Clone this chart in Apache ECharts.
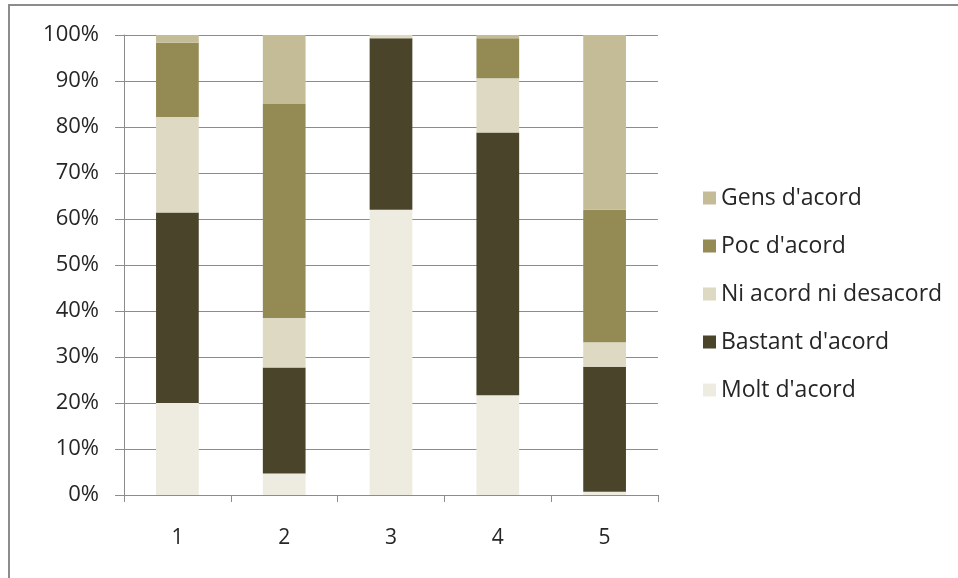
<!DOCTYPE html>
<html>
<head>
<meta charset="utf-8">
<script src="https://cdn.jsdelivr.net/npm/echarts@6/dist/echarts.min.js"></script>
<style>html,body{margin:0;padding:0;background:#fff;}#c{width:958px;height:578px;}</style>
</head>
<body>
<div id="c"></div>
<script>
const categories = ['1', '2', '3', '4', '5'];
const seriesNames = ['Molt d\'acord', 'Bastant d\'acord', 'Ni acord ni desacord', 'Poc d\'acord', 'Gens d\'acord'];
const moltAcord = [20.0, 4.7, 62.0, 21.7, 0.7];
const bastantAcord = [41.4, 23.0, 37.3, 57.1, 27.2];
const niAcord = [20.8, 10.8, 0.7, 11.8, 5.3];
const pocAcord = [16.1, 46.5, 0, 8.7, 28.8];
const gensAcord = [1.7, 15.0, 0, 0.7, 38.0];
const colors = ['#eeece1', '#4a452a', '#ddd9c3', '#948a54', '#c4bc96'];

const values = [moltAcord, bastantAcord, niAcord, pocAcord, gensAcord];
const FONT = 'Open Sans';

const chart = echarts.init(document.getElementById('c'), null, {renderer: 'canvas'});
chart.setOption({
  animation: false,
  backgroundColor: '#ffffff',
  graphic: [{
    type: 'rect',
    shape: {x: 9, y: 5, width: 1200, height: 1200},
    style: {fill: 'none', stroke: '#8c8c8c', lineWidth: 2},
    silent: true
  }],
  grid: {left: 124, right: 300, top: 35, bottom: 83, containLabel: false},
  legend: {
    orient: 'vertical',
    left: 698,
    top: 181,
    itemWidth: 13,
    itemHeight: 13,
    itemGap: 24,
    icon: 'rect',
    data: seriesNames.slice().reverse(),
    textStyle: {fontFamily: FONT, fontSize: 23, color: '#262626', lineHeight: 24}
  },
  xAxis: {
    type: 'category',
    data: categories,
    axisLine: {lineStyle: {color: '#8c8c8c', width: 1}},
    axisTick: {show: true, length: 7, lineStyle: {color: '#8c8c8c'}},
    axisLabel: {fontFamily: FONT, fontSize: 21, color: '#262626', margin: 33}
  },
  yAxis: {
    type: 'value',
    min: 0, max: 100, interval: 10,
    axisLine: {show: true, lineStyle: {color: '#8c8c8c', width: 1}},
    axisTick: {show: true, length: 9, lineStyle: {color: '#8c8c8c'}},
    splitLine: {lineStyle: {color: '#8c8c8c', width: 1}},
    axisLabel: {fontFamily: FONT, fontSize: 22, color: '#262626', margin: 25, formatter: '{value}%'}
  },
  series: seriesNames.map((name, i) => ({
    name: name,
    type: 'bar',
    stack: 'total',
    barWidth: '40%',
    data: values[i],
    itemStyle: {color: colors[i]}
  }))
});
</script>
</body>
</html>
